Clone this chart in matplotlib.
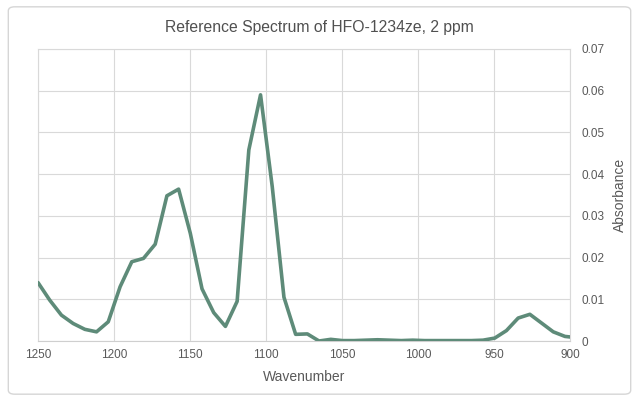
import matplotlib
matplotlib.use("Agg")
import matplotlib.pyplot as plt
from matplotlib.patches import FancyBboxPatch

# spectrum (wavenumber, absorbance)
wavenumber = [1250.0, 1242.3, 1234.6, 1226.9, 1219.2, 1211.5, 1203.8, 1196.0,
              1188.3, 1180.6, 1172.9, 1165.2, 1157.5, 1149.8, 1142.1, 1134.4,
              1126.7, 1119.0, 1111.3, 1103.6, 1095.9, 1088.2, 1080.5, 1072.8,
              1065.1, 1057.4, 1049.7, 1042.0, 1034.3, 1026.6, 1018.9, 1011.1,
              1003.4, 995.7, 988.0, 980.3, 972.6, 964.9, 957.2, 949.5,
              941.8, 934.1, 926.4, 918.7, 911.0, 903.3, 895.6]
absorbance = [0.0140, 0.0098, 0.0062, 0.0042, 0.0028, 0.0022, 0.0046, 0.0130,
              0.0190, 0.0198, 0.0232, 0.0348, 0.0364, 0.0258, 0.0125, 0.0068,
              0.0035, 0.0095, 0.0458, 0.0590, 0.0370, 0.0105, 0.0016, 0.0017,
              0.0000, 0.0004, 0.0001, 0.0001, 0.0002, 0.0003, 0.0002, 0.0001,
              0.0002, 0.0001, 0.0001, 0.0001, 0.0001, 0.0001, 0.0002, 0.0007,
              0.0025, 0.0055, 0.0064, 0.0043, 0.0022, 0.0011, 0.0008]

x_ticks = [1250, 1200, 1150, 1100, 1050, 1000, 950, 900]
y_ticks = [0, 0.01, 0.02, 0.03, 0.04, 0.05, 0.06, 0.07]
y_labels = ["0", "0.01", "0.02", "0.03", "0.04", "0.05", "0.06", "0.07"]

plt.rcParams["font.family"] = ["Liberation Sans", "DejaVu Sans"]
text_color = "#595959"
grid_color = "#d9d9d9"

fig = plt.figure(figsize=(6.39, 4.01), dpi=100)
fig.patch.set_facecolor("white")

# light rounded frame around the whole chart
frame = FancyBboxPatch((0.013, 0.017), 0.974, 0.966,
                       boxstyle="round,pad=0,rounding_size=0.01",
                       transform=fig.transFigure, facecolor="none",
                       edgecolor="#d6d6d6", linewidth=1.0, zorder=-1)
fig.patches.append(frame)

ax = fig.add_axes([0.0595, 0.1496, 0.8325, 0.7284])
ax.patch.set_alpha(0)
ax.plot(wavenumber, absorbance, color="#5e8b79", linewidth=2.6,
        solid_joinstyle="round", solid_capstyle="round", zorder=3)

ax.set_xlim(1250, 900)
ax.set_ylim(0, 0.07)
ax.set_xticks(x_ticks)
ax.set_xticklabels([str(t) for t in x_ticks])
ax.set_yticks(y_ticks)
ax.set_yticklabels(y_labels)
ax.yaxis.tick_right()
ax.yaxis.set_label_position("right")

ax.grid(True, color=grid_color, linewidth=0.8)
ax.set_axisbelow(True)
for side in ["top", "left", "right", "bottom"]:
    ax.spines[side].set_color(grid_color)
    ax.spines[side].set_linewidth(0.8)
ax.spines["bottom"].set_color("#cfcfcf")

ax.tick_params(axis="both", length=0, labelsize=8.5, colors=text_color)
ax.tick_params(axis="x", pad=6)
ax.tick_params(axis="y", pad=8)

ax.set_xlabel("Wavenumber", fontsize=10, color=text_color, labelpad=6)
ax.set_ylabel("Absorbance", fontsize=10, color=text_color, labelpad=6)

fig.text(0.5, 0.932, "Reference Spectrum of HFO-1234ze, 2 ppm",
         ha="center", va="center", fontsize=11.3, color="#505050")

fig.savefig("out.png", dpi=100, facecolor="white")
